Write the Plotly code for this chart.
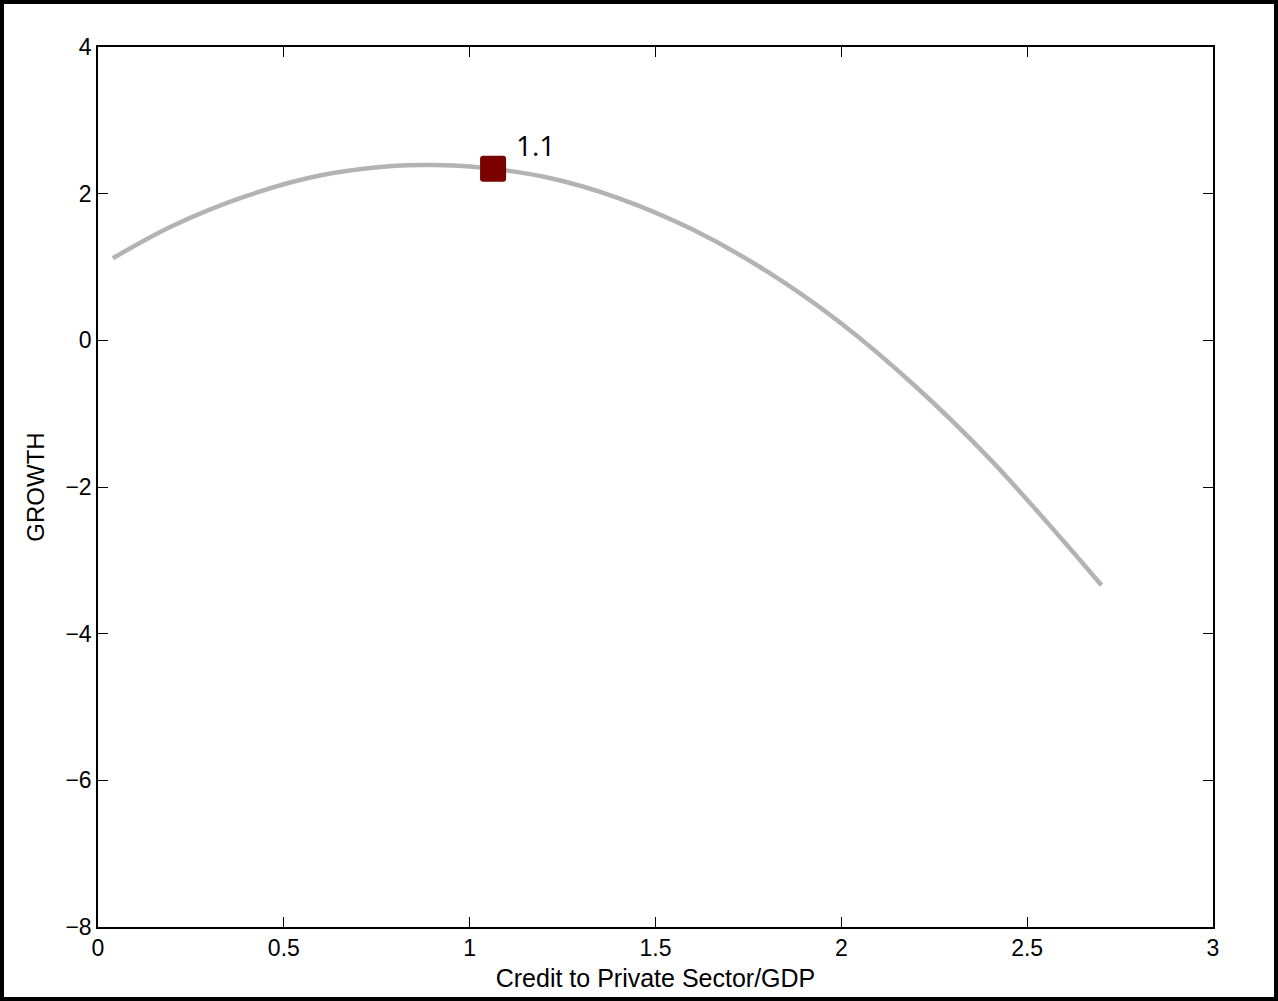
import plotly.graph_objects as go

# Curve values
credit = [0.04, 0.2, 0.4, 0.6, 0.8, 0.9, 1.0, 1.2, 1.4, 1.6, 1.8, 2.0, 2.2, 2.4, 2.6, 2.7]
growth = [1.12, 1.56, 1.97, 2.25, 2.38, 2.39, 2.37, 2.23, 1.94, 1.51, 0.94, 0.23, -0.63, -1.62, -2.75, -3.34]

# Highlighted point
point_x = [1.063]
point_y = [2.34]
point_label = ["1.1"]

x_ticks = [0, 0.5, 1, 1.5, 2, 2.5, 3]
x_tick_text = ["0", "0.5", "1", "1.5", "2", "2.5", "3"]
y_ticks = [4, 2, 0, -2, -4, -6, -8]

fig = go.Figure()
fig.add_trace(go.Scatter(
    x=credit, y=growth, mode="lines",
    line=dict(color="#b3b3b3", width=4.5, shape="spline"),
    hoverinfo="skip", showlegend=False,
))
fig.add_trace(go.Scatter(
    x=point_x, y=point_y, mode="markers",
    marker=dict(symbol="square", size=20, color="#7b0000",
                line=dict(color="#7b0000", width=6)),
    showlegend=False,
))
fig.add_annotation(
    x=point_x[0], y=point_y[0], text=point_label[0], showarrow=False,
    xshift=42, yshift=24,
    font=dict(family="Open Sans", size=28, color="black"),
)

axis_common = dict(
    showgrid=False, zeroline=False, showline=True, linecolor="black", linewidth=1.5,
    mirror="ticks", ticks="inside", ticklen=10, tickwidth=1, tickcolor="black",
    tickfont=dict(family="Liberation Sans, Arial", size=23, color="black"),
)
fig.update_xaxes(
    range=[0, 3], tickvals=x_ticks, ticktext=x_tick_text,
    title=dict(text="Credit to Private Sector/GDP", standoff=9,
               font=dict(family="Liberation Sans, Arial", size=25, color="black")),
    **axis_common,
)
fig.update_yaxes(
    range=[-8, 4], tickvals=y_ticks,
    title=dict(text="GROWTH", standoff=14,
               font=dict(family="Liberation Sans, Arial", size=24, color="black")),
    **axis_common,
)

# outer frame around whole figure (paper coords extend beyond plot area)
pw, ph = 1115.0, 880.0
fig.add_shape(
    type="rect", xref="paper", yref="paper",
    x0=(2 - 98) / pw, x1=(1276 - 98) / pw,
    y0=(927 - 999) / ph, y1=(927 - 2) / ph,
    line=dict(color="black", width=4), fillcolor="rgba(0,0,0,0)", layer="below",
)

fig.update_layout(
    width=1278, height=1001,
    margin=dict(l=98, r=65, t=47, b=74, autoexpand=False),
    paper_bgcolor="white", plot_bgcolor="white",
    showlegend=False,
)

post = """
document.body.style.margin='0';
document.body.style.overflow='hidden';
document.querySelectorAll('.scatterlayer .point').forEach(function(p){p.style.strokeLinejoin='round';});
"""
fig.write_html("out.html", post_script=post, config={"displayModeBar": False})
